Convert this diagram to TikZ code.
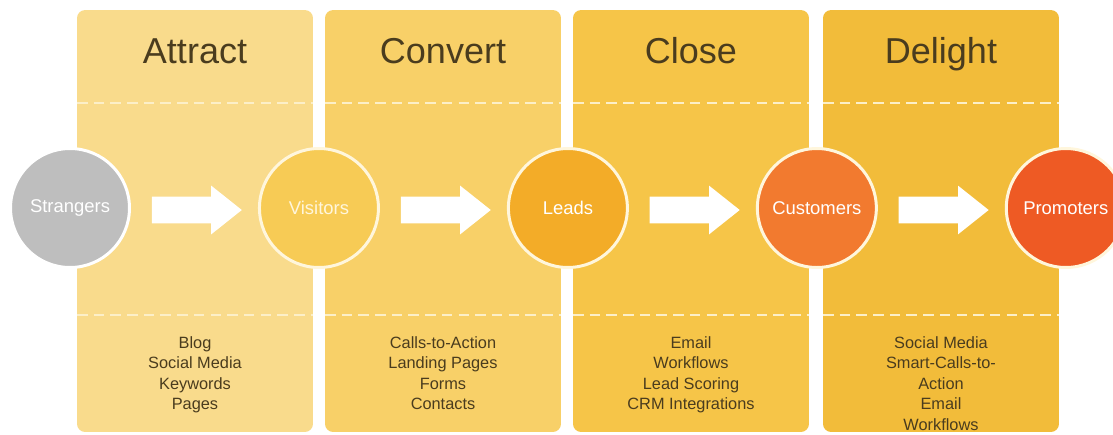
\documentclass[tikz,border=0pt]{standalone}
\usepackage{fontspec}
\setmainfont{Liberation Sans}
\usepackage{tikz}
\usetikzlibrary{shapes.arrows, positioning, calc}
\definecolor{attractbg}{HTML}{F9DB8C}
\definecolor{convertbg}{HTML}{F8D068}
\definecolor{closebg}{HTML}{F6C548}
\definecolor{delightbg}{HTML}{F2BC3A}
\definecolor{strangercol}{HTML}{BEBEBE}
\definecolor{visitorcol}{HTML}{F7CB55}
\definecolor{leadcol}{HTML}{F3AC28}
\definecolor{customercol}{HTML}{F27A2F}
\definecolor{promotercol}{HTML}{EE5A24}
\definecolor{txtcol}{HTML}{4A3C1E}
\definecolor{dashcol}{HTML}{FCEFC8}
\definecolor{ringcol}{HTML}{FFF6DC}

\begin{document}
\begin{tikzpicture}[x=0.02cm, y=-0.02cm, node distance=2.6cm]
\tikzstyle{panel}=[rounded corners=0.16cm, minimum width=4.72cm, minimum height=8.44cm, inner sep=0pt, outer sep=0pt]
\tikzstyle{ttl}=[anchor=base, text=txtcol, font=\fontsize{20.5}{24}\selectfont]
\tikzstyle{lst}=[anchor=north, align=center, inner sep=0pt, text=txtcol, font=\fontsize{9.3}{11.7}\selectfont]
\tikzstyle{dashline}=[draw=dashcol, line width=1.5pt, dash pattern=on 6pt off 3.5pt]
\tikzstyle{stage}=[circle, minimum size=2.38cm, inner sep=0pt, outer sep=0pt, draw=ringcol, line width=1.7pt, text=white, font=\fontsize{10.5}{12}\selectfont]
\tikzstyle{arr}=[single arrow, anchor=tail, fill=white, inner xsep=0pt, inner ysep=0.26cm, minimum height=1.8cm, single arrow head extend=0.22cm, single arrow tip angle=77]

\useasboundingbox (0,0) rectangle (1113,434);

% panels
\node[panel, fill=attractbg](pa) at (195,221){};
\node[panel, fill=convertbg](pb) at (443,221){};
\node[panel, fill=closebg](pc) at (691,221){};
\node[panel, fill=delightbg](pd) at (941,221){};

\foreach \p in {pa,pb,pc,pd}{
  \draw[dashline] (\p.west |- 0,103) -- (\p.east |- 0,103);
  \draw[dashline] (\p.west |- 0,315) -- (\p.east |- 0,315);
}

\node[ttl] (ta) at (195,63) {Attract};
\node[ttl] (tb) at (443,63) {Convert};
\node[ttl] (tc) at (691,63) {Close};
\node[ttl] (td) at (941,63) {Delight};

\node[lst] (la) at (195,336) {Blog\\Social Media\\Keywords\\Pages};
\node[lst] (lb) at (443,336) {Calls-to-Action\\Landing Pages\\Forms\\Contacts};
\node[lst] (lc) at (691,336) {Email\\Workflows\\Lead Scoring\\CRM Integrations};
\node[lst] (ld) at (941,336) {Social Media\\Smart-Calls-to-\\Action\\Email\\Workflows};

% stages
\node[stage, fill=strangercol, draw=white](s) at (70,208){Strangers};
\node[stage, fill=visitorcol, right=of s, text=ringcol](v){Visitors};
\node[stage, fill=leadcol, right=of v](l){Leads};
\node[stage, fill=customercol, right=of l](c){Customers};
\node[stage, fill=promotercol, right=of c](p){Promoters};

\node[arr] (a1) at ($(s.east)+(22,2)$){};
\node[arr] (a2) at ($(v.east)+(22,2)$){};
\node[arr] (a3) at ($(l.east)+(22,2)$){};
\node[arr] (a4) at ($(c.east)+(22,2)$){};
\end{tikzpicture}
\end{document}
